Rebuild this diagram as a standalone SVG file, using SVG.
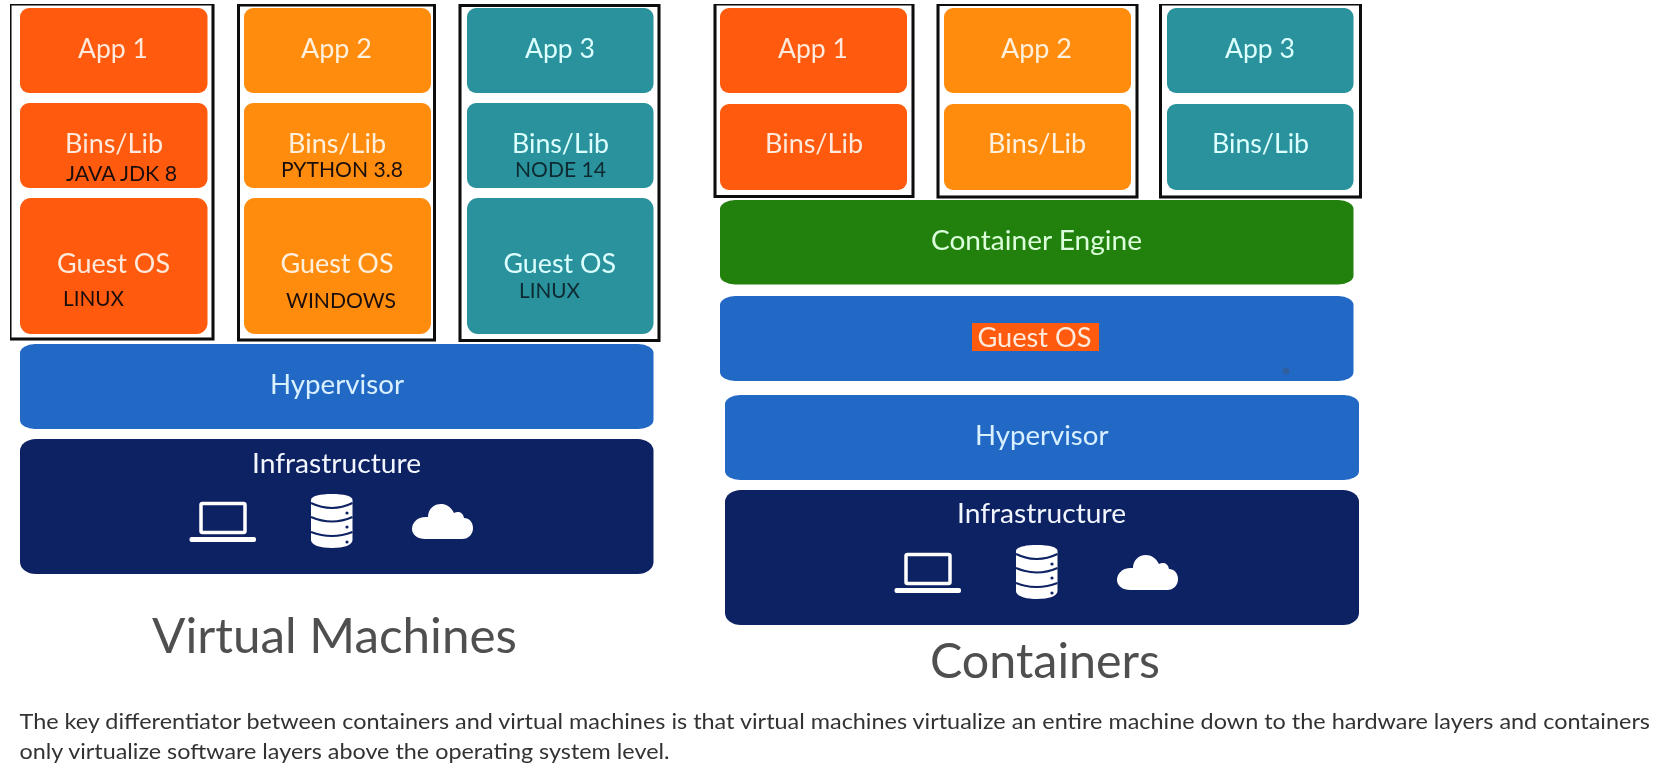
<svg xmlns="http://www.w3.org/2000/svg" width="1671" height="770" viewBox="0 0 1671 770">
<style>
text{font-family:Lato,"Open Sans","Liberation Sans",sans-serif}
.frame{fill:none;stroke:#0a0a0a;stroke-width:3}
.red{fill:#ff5a0a}.org{fill:#ff8c10}.teal{fill:#2a929c}.blue{fill:#2469c6}.navy{fill:#0e2062}.green{fill:#23800e}
.lbl{font-size:27px}
.tr{fill:#ffe9dc}.to{fill:#fff0dc}.tt{fill:#dcffff}.tb{fill:#d8f0ff}.tn{fill:#f2f6ff}.tg{fill:#dcffdc}
.sub{font-size:21.5px;fill:#1c1008}
.subt{font-size:21.5px;fill:#0c2a30}
.title{font-size:49px;fill:#505050}
.para{font-size:21.5px;fill:#333}
</style>
<defs>
<filter id="soft" x="0" y="0" width="100%" height="100%"><feGaussianBlur stdDeviation="0.55"/></filter>
<g id="icons">
<rect x="201" y="503.5" width="44" height="29" rx="1.5" fill="none" stroke="#fff" stroke-width="3.5"/>
<rect x="189.5" y="537" width="66.500" height="5" rx="2" fill="#fff"/>
<path d="M311 500V540C311 545 320 548 332 548C344 548 352.500 545 352.500 540V500C352.500 496 344 494 332 494C320 494 311 496 311 500Z" fill="#fff"/>
<path d="M311 503Q332 513 352.500 503M311 517Q332 526 352.500 517M311 532Q332 540 352.500 532" fill="none" stroke="#0e2062" stroke-width="2"/>
<circle cx="347" cy="513" r="1.600" fill="#0e2062"/><circle cx="347" cy="527" r="1.600" fill="#0e2062"/><circle cx="347" cy="542" r="1.600" fill="#0e2062"/>
<path d="M425 539H462C469 539 473 534 473 528C473 522 469 518 464 518C463 512 458 511 454 513C451 507 446 504 441 504C433 504 428 510 428 517C418 516 412 522 412 529C412 535 418 539 425 539Z" fill="#fff"/>
</g>
</defs>
<rect width="1671" height="770" fill="#fff"/>
<g id="diagram" filter="url(#soft)">
<g id="vm-app1">
<rect class="frame" x="10" y="4" width="203" height="335"/>
<rect class="red" x="20" y="8" width="187.500" height="85" rx="9"/>
<rect class="red" x="20" y="103" width="187.500" height="85" rx="9"/>
<rect class="red" x="20" y="198" width="187.500" height="136" rx="11"/>
<text class="lbl tr" x="78" y="58" textLength="70" lengthAdjust="spacingAndGlyphs">App 1</text>
<text class="lbl tr" x="65" y="153" textLength="98" lengthAdjust="spacingAndGlyphs">Bins/Lib</text>
<text class="sub" x="66" y="181" textLength="111" lengthAdjust="spacingAndGlyphs">JAVA JDK 8</text>
<text class="lbl tr" x="57" y="273" textLength="113" lengthAdjust="spacingAndGlyphs">Guest OS</text>
<text class="sub" x="63" y="306" textLength="61" lengthAdjust="spacingAndGlyphs">LINUX</text>
</g>
<g id="vm-app2">
<rect class="frame" x="238.500" y="5" width="196" height="335"/>
<rect class="org" x="244" y="8" width="187" height="85" rx="9"/>
<rect class="org" x="244" y="103" width="187" height="85" rx="9"/>
<rect class="org" x="244" y="198" width="187" height="136" rx="11"/>
<text class="lbl to" x="301" y="58" textLength="71" lengthAdjust="spacingAndGlyphs">App 2</text>
<text class="lbl to" x="288" y="153" textLength="98" lengthAdjust="spacingAndGlyphs">Bins/Lib</text>
<text class="sub" x="281" y="177" textLength="122" lengthAdjust="spacingAndGlyphs">PYTHON 3.8</text>
<text class="lbl to" x="280.500" y="273" textLength="113" lengthAdjust="spacingAndGlyphs">Guest OS</text>
<text class="sub" x="286" y="308" textLength="110" lengthAdjust="spacingAndGlyphs">WINDOWS</text>
</g>
<g id="vm-app3">
<rect class="frame" x="460" y="5.500" width="199" height="335"/>
<rect class="teal" x="467" y="8" width="186.500" height="85" rx="9"/>
<rect class="teal" x="467" y="103" width="186.500" height="85" rx="9"/>
<rect class="teal" x="467" y="198" width="186.500" height="136" rx="11"/>
<text class="lbl tt" x="525" y="58" textLength="70" lengthAdjust="spacingAndGlyphs">App 3</text>
<text class="lbl tt" x="512" y="153" textLength="97" lengthAdjust="spacingAndGlyphs">Bins/Lib</text>
<text class="subt" x="515" y="177" textLength="91" lengthAdjust="spacingAndGlyphs">NODE 14</text>
<text class="lbl tt" x="503.500" y="273" textLength="112.500" lengthAdjust="spacingAndGlyphs">Guest OS</text>
<text class="subt" x="519" y="298" textLength="61" lengthAdjust="spacingAndGlyphs">LINUX</text>
</g>
<g id="vm-hypervisor">
<rect class="blue" x="20" y="344" width="633.500" height="85" rx="15" ry="9"/>
<text class="lbl tb" x="270" y="394" textLength="134" lengthAdjust="spacingAndGlyphs">Hypervisor</text>
</g>
<g id="vm-infrastructure">
<rect class="navy" x="20" y="439" width="633.500" height="135" rx="16" ry="12"/>
<text class="lbl tn" x="252" y="473" textLength="169" lengthAdjust="spacingAndGlyphs">Infrastructure</text>
<use href="#icons"/>
</g>
<g id="vm-title"><text class="title" x="152" y="653" textLength="365" lengthAdjust="spacingAndGlyphs">Virtual Machines</text></g>

<g id="ct-app1">
<rect class="frame" x="715" y="4" width="198" height="192.500"/>
<rect class="red" x="720" y="8" width="187" height="85" rx="9"/>
<rect class="red" x="720" y="104" width="187" height="86" rx="9"/>
<text class="lbl tr" x="778" y="58" textLength="70" lengthAdjust="spacingAndGlyphs">App 1</text>
<text class="lbl tr" x="765" y="153" textLength="98" lengthAdjust="spacingAndGlyphs">Bins/Lib</text>
</g>
<g id="ct-app2">
<rect class="frame" x="938" y="4.500" width="199" height="192.500"/>
<rect class="org" x="944" y="8" width="187" height="85" rx="9"/>
<rect class="org" x="944" y="104" width="187" height="86" rx="9"/>
<text class="lbl to" x="1001" y="58" textLength="71" lengthAdjust="spacingAndGlyphs">App 2</text>
<text class="lbl to" x="988" y="153" textLength="98" lengthAdjust="spacingAndGlyphs">Bins/Lib</text>
</g>
<g id="ct-app3">
<rect class="frame" x="1160.500" y="4" width="200" height="193"/>
<rect class="teal" x="1167" y="8" width="186.500" height="85" rx="9"/>
<rect class="teal" x="1167" y="104" width="186.500" height="86" rx="9"/>
<text class="lbl tt" x="1225" y="58" textLength="70" lengthAdjust="spacingAndGlyphs">App 3</text>
<text class="lbl tt" x="1212" y="153" textLength="97" lengthAdjust="spacingAndGlyphs">Bins/Lib</text>
</g>
<g id="ct-engine">
<rect class="green" x="720" y="200" width="633.500" height="84.500" rx="15" ry="9"/>
<text class="lbl tg" x="931" y="250" textLength="211" lengthAdjust="spacingAndGlyphs">Container Engine</text>
</g>
<g id="ct-guest-os">
<rect class="blue" x="720" y="296" width="633.500" height="85" rx="15" ry="9"/>
<rect class="red" x="972" y="323" width="127" height="28"/>
<text class="lbl tr" x="977.500" y="347" textLength="114" lengthAdjust="spacingAndGlyphs">Guest OS</text>
<circle cx="1286" cy="371" r="3.500" fill="#2f5f9e"/>
</g>
<g id="ct-hypervisor">
<rect class="blue" x="725" y="395" width="634" height="85" rx="15" ry="9"/>
<text class="lbl tb" x="975" y="445" textLength="133.500" lengthAdjust="spacingAndGlyphs">Hypervisor</text>
</g>
<g id="ct-infrastructure">
<rect class="navy" x="725" y="490" width="634" height="135" rx="16" ry="12"/>
<text class="lbl tn" x="957" y="523" textLength="169" lengthAdjust="spacingAndGlyphs">Infrastructure</text>
<use href="#icons" x="705" y="51"/>
</g>
<g id="ct-title"><text class="title" x="930" y="678" textLength="230" lengthAdjust="spacingAndGlyphs">Containers</text></g>

<g id="caption">
<text class="para" x="19.500" y="729" textLength="1630.500" lengthAdjust="spacingAndGlyphs">The key differentiator between containers and virtual machines is that virtual machines virtualize an entire machine down to the hardware layers and containers</text>
<text class="para" x="19.500" y="759" textLength="650" lengthAdjust="spacingAndGlyphs">only virtualize software layers above the operating system level.</text>
</g>
</g>
</svg>
